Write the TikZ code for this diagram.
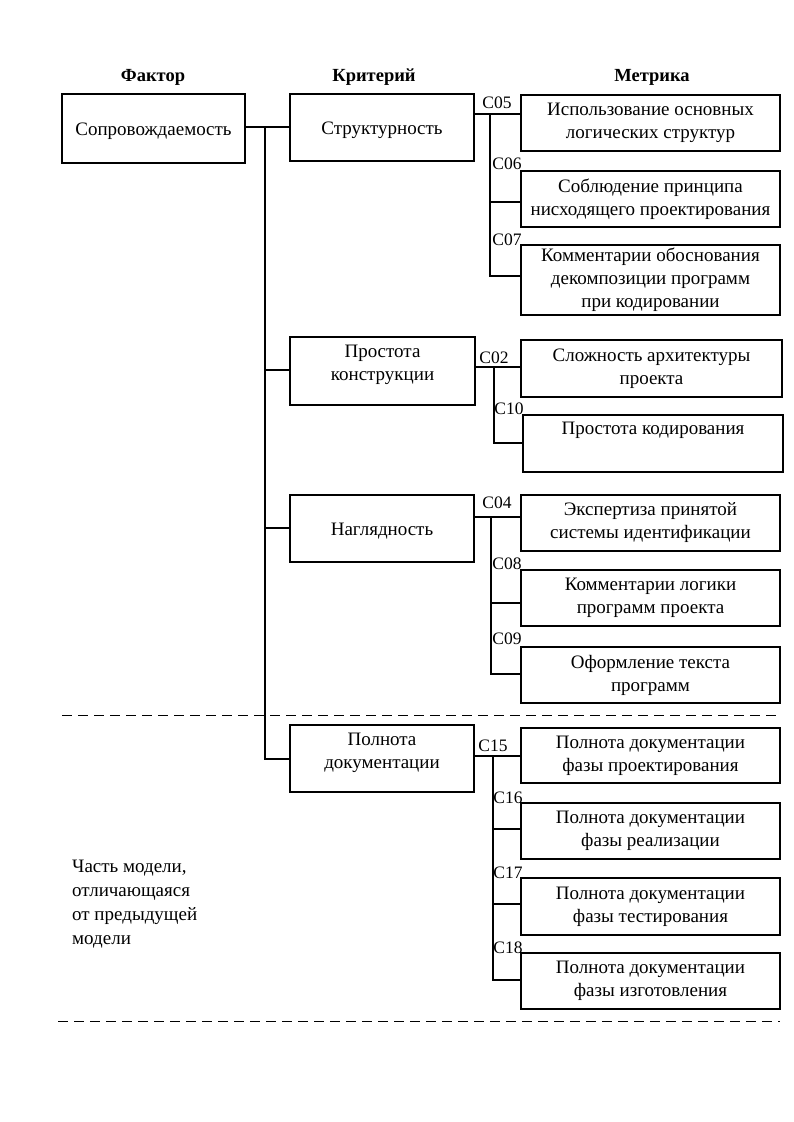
\documentclass[tikz,border=0pt]{standalone}
\usepackage{fontspec}
\setmainfont{Liberation Serif}
\begin{document}
\begin{tikzpicture}[x=1pt,y=-1pt,
  box/.style={draw,line width=1.3pt,inner sep=0pt,align=center,font=\fontsize{19}{23}\selectfont},
  txt/.style={inner sep=0pt,align=center,font=\fontsize{19}{23}\selectfont},
  hdr/.style={inner sep=0pt,font=\fontsize{18.5}{20}\selectfont\bfseries},
  cl/.style={inner sep=0pt,font=\fontsize{17.5}{18}\selectfont},
  con/.style={line width=1.6pt},
  dsh/.style={line width=1pt,dash pattern=on 10pt off 6pt}]
\useasboundingbox (0,0) rectangle (793,1122);
% headers
\node[hdr] (h1) at (153,77) {Фактор};
\node[hdr] (h2) at (374,77) {Критерий};
\node[hdr] (h3) at (652,77) {Метрика};
% factor
\node[box,minimum width=183pt,minimum height=69pt] (F) at (153.5,128.5) {};
\node[txt] (Ft) at (153.5,131) {Сопровождаемость};
% criteria
\node[box,minimum width=184pt,minimum height=67pt] (K1) at (382,127.5) {};
\node[txt] (K1t) at (382,130) {Структурность};
\node[box,minimum width=185pt,minimum height=68pt] (K2) at (382.5,371) {};
\node[txt] (K2t) at (382.5,365) {Простота\\конструкции};
\node[box,minimum width=184pt,minimum height=67pt] (K3) at (382,528.5) {};
\node[txt] (K3t) at (382,531) {Наглядность};
\node[box,minimum width=184pt,minimum height=67pt] (K4) at (382,758.5) {};
\node[txt] (K4t) at (382,752.5) {Полнота\\документации};
% metrics
\node[box,minimum width=259pt,minimum height=56pt] (M1) at (650.5,123) {Использование основных\\логических структур};
\node[box,minimum width=259pt,minimum height=56pt] (M2) at (650.5,199) {Соблюдение принципа\\нисходящего проектирования};
\node[box,minimum width=259pt,minimum height=70pt] (M3) at (650.5,280) {Комментарии обоснования\\декомпозиции программ\\при кодировании};
\node[box,minimum width=261pt,minimum height=57pt] (M4) at (651.5,368.5) {Сложность архитектуры\\проекта};
\node[box,minimum width=260pt,minimum height=57pt] (M5) at (653,443.5) {};
\node[txt] (M5t) at (653,430) {Простота кодирования};
\node[box,minimum width=259pt,minimum height=56pt] (M6) at (650.5,523) {Экспертиза принятой\\системы идентификации};
\node[box,minimum width=259pt,minimum height=56pt] (M7) at (650.5,598) {Комментарии логики\\программ проекта};
\node[box,minimum width=259pt,minimum height=56pt] (M8) at (650.5,675) {Оформление текста\\программ};
\node[box,minimum width=259pt,minimum height=55pt] (M9) at (650.5,755.5) {Полнота документации\\фазы проектирования};
\node[box,minimum width=259pt,minimum height=56pt] (M10) at (650.5,831) {Полнота документации\\фазы реализации};
\node[box,minimum width=259pt,minimum height=57pt] (M11) at (650.5,906.5) {Полнота документации\\фазы тестирования};
\node[box,minimum width=259pt,minimum height=56pt] (M12) at (650.5,981) {Полнота документации\\фазы изготовления};
% trunk
\coordinate (t) at (265,127);
\draw[con] (F.east |- t) -- (K1.west |- t);
\draw[con] (t) |- (K4.west |- 0,759);
\draw[con] (t |- 0,370) -- (K2.west |- 0,370);
\draw[con] (t |- 0,528) -- (K3.west |- 0,528);
% group 1
\coordinate (a1) at (490,114);
\draw[con] (K1.east |- a1) -- (M1.west |- a1);
\draw[con] (a1) |- (M3.west |- 0,276);
\draw[con] (a1 |- 0,202) -- (M2.west |- 0,202);
% group 2
\coordinate (a2) at (494,367);
\draw[con] (K2.east |- a2) -- (M4.west |- a2);
\draw[con] (a2) |- (M5.west |- 0,443);
% group 3
\coordinate (a3) at (491,517);
\draw[con] (K3.east |- a3) -- (M6.west |- a3);
\draw[con] (a3) |- (M8.west |- 0,674);
\draw[con] (a3 |- 0,603) -- (M7.west |- 0,603);
% group 4
\coordinate (a4) at (493,756);
\draw[con] (K4.east |- a4) -- (M9.west |- a4);
\draw[con] (a4) |- (M12.west |- 0,980);
\draw[con] (a4 |- 0,829) -- (M10.west |- 0,829);
\draw[con] (a4 |- 0,904) -- (M11.west |- 0,904);
% code labels
\node[cl] (c05) at (497,103) {C05};
\node[cl] (c06) at (507,164) {C06};
\node[cl] (c07) at (507,240) {C07};
\node[cl] (c02) at (494,358) {C02};
\node[cl] (c10) at (509,409) {C10};
\node[cl] (c04) at (497,503) {C04};
\node[cl] (c08) at (507,564) {C08};
\node[cl] (c09) at (507,639) {C09};
\node[cl] (c15) at (493,746) {C15};
\node[cl] (c16) at (508,798) {C16};
\node[cl] (c17) at (508,873) {C17};
\node[cl] (c18) at (508,948) {C18};
% dashed lines
\coordinate (d1a) at (62,715); \coordinate (d1b) at (780,715);
\coordinate (d2a) at (58,1021); \coordinate (d2b) at (780,1021);
\draw[dsh] (d1a) -- (d1b);
\draw[dsh] (d2a) -- (d2b);
% side note
\node[inner sep=0pt,align=left,anchor=north west,font=\fontsize{19}{24}\selectfont] (note) at (72,860) {Часть модели,\\отличающаяся\\от предыдущей\\модели};
\end{tikzpicture}
\end{document}
